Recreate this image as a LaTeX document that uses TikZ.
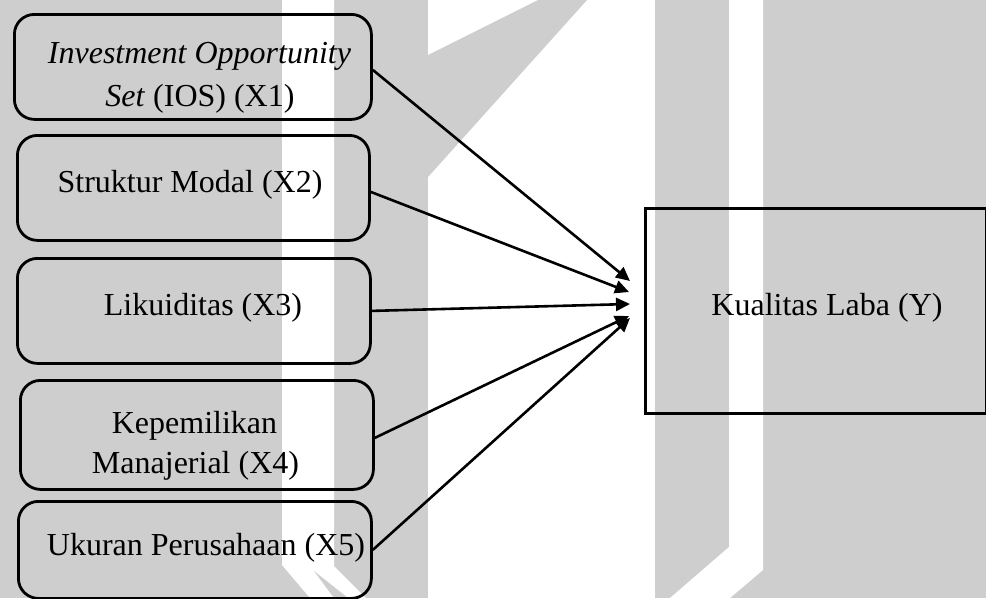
\documentclass[tikz,border=0pt]{standalone}
\usepackage{fontspec}
\setmainfont{Liberation Serif}
\usetikzlibrary{arrows.meta}
\definecolor{wmgrey}{RGB}{206,206,206}
\begin{document}
\begin{tikzpicture}[x=1pt,y=-1pt,
  varbox/.style={draw=black, line width=2.8pt, rounded corners=20pt, inner sep=0pt, anchor=north west},
  outbox/.style={draw=black, line width=2.8pt, inner sep=0pt, anchor=north west},
  lbl/.style={anchor=base, inner sep=0pt, font=\fontsize{32}{41}\selectfont},
  link/.style={line width=2.6pt, -{Triangle[length=14pt,width=13pt]}}]
\useasboundingbox (0,0) rectangle (986,598);
% watermark background
\fill[wmgrey] (0,0) rectangle (986,598);
\fill[white] (282,0) -- (334,0) -- (334,566) -- (366,598) -- (310,598) -- (282,565) -- cycle;
\fill[wmgrey] (314,571) -- (348,598) -- (334,598) -- cycle;
\fill[white] (428,0) rectangle (655,598);
\fill[wmgrey] (428,55) -- (538,0) -- (587,0) -- (428,177) -- cycle;
\fill[white] (729,0) -- (763,0) -- (763,570) -- (730,598) -- (670,598) -- (729,547) -- cycle;
% boxes
\node[varbox, minimum width=357pt, minimum height=105pt] (b1) at (13,13) {};
\node[varbox, minimum width=352pt, minimum height=105pt] (b2) at (16,134) {};
\node[varbox, minimum width=353pt, minimum height=105pt] (b3) at (16,257) {};
\node[varbox, minimum width=353pt, minimum height=109pt] (b4) at (19,379) {};
\node[varbox, minimum width=353pt, minimum height=97pt] (b5) at (17,500) {};
\node[outbox, minimum width=341pt, minimum height=205pt] (y) at (644,207) {};
% labels
\node[lbl] (t1a) at (199.5,63) {\textit{Investment Opportunity}};
\node[lbl] (t1b) at (200,106) {\textit{Set} (IOS) (X1)};
\node[lbl] (t2) at (190,192) {Struktur Modal (X2)};
\node[lbl] (t3) at (203,315) {Likuiditas (X3)};
\node[lbl] (t4a) at (194.5,433) {Kepemilikan};
\node[lbl] (t4b) at (195.5,473) {Manajerial (X4)};
\node[lbl] (t5) at (206,555) {Ukuran Perusahaan (X5)};
\node[lbl] (ty) at (827,315) {Kualitas Laba (Y)};
% arrow targets
\coordinate (e1) at (630,281);
\coordinate (e2) at (629,292);
\coordinate (e3) at (630,304);
\coordinate (e4) at (629,316);
\coordinate (e5) at (630,318);
\draw[link] (b1.east) ++(0,3) -- (e1);
\draw[link] (b2.east) ++(0,4) -- (e2);
\draw[link] (b3.east) -- (e3);
\draw[link] (b4.east) ++(0,3) -- (e4);
\draw[link] (b5.east) -- (e5);
\end{tikzpicture}
\end{document}
